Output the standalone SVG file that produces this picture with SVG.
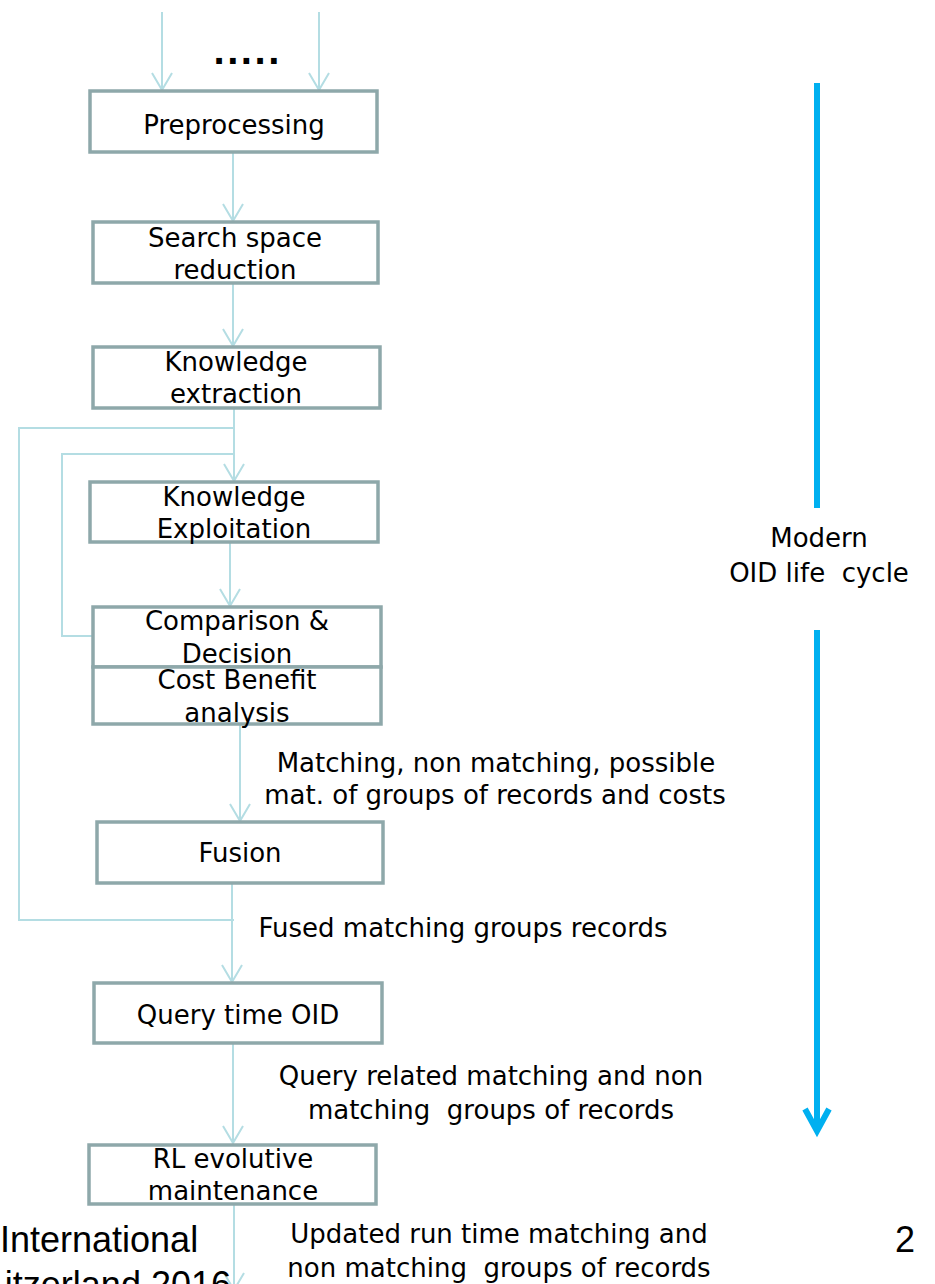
<svg xmlns="http://www.w3.org/2000/svg" width="935" height="1284" viewBox="0 0 935 1284">
  <style>
    .box { fill: #ffffff; stroke: #8ea8aa; stroke-width: 3.5; }
    .lbl { font-family: "DejaVu Sans", "Noto Sans", sans-serif; font-size: 26px; fill: #000000; text-anchor: middle; white-space: pre; }
    .wire { fill: none; stroke: #b4dde3; stroke-width: 2; }
    .foot { font-family: "Liberation Sans", Arial, sans-serif; font-size: 36px; fill: #000000; }
  </style>
  <defs>
    <marker id="vee" markerUnits="userSpaceOnUse" markerWidth="40" markerHeight="40" refX="0" refY="0" orient="auto" viewBox="-20 -20 40 40" overflow="visible">
      <path d="M-17,-10 L0,0 L-17,10" fill="none" stroke="#b4dde3" stroke-width="2"/>
    </marker>
  </defs>

  <!-- connectors -->
  <g id="connectors">
    <line class="wire" x1="162" y1="12" x2="162" y2="90" marker-end="url(#vee)"/>
    <line class="wire" x1="319" y1="12" x2="319" y2="90" marker-end="url(#vee)"/>
    <line class="wire" x1="233" y1="152" x2="233" y2="221" marker-end="url(#vee)"/>
    <line class="wire" x1="233" y1="283" x2="233" y2="346" marker-end="url(#vee)"/>
    <line class="wire" x1="234" y1="408" x2="234" y2="481" marker-end="url(#vee)"/>
    <!-- outer feedback loop -->
    <polyline class="wire" points="234,428 19,428 19,920 234,920"/>
    <!-- inner feedback loop -->
    <polyline class="wire" points="234,454 62,454 62,636 93,636"/>
    <line class="wire" x1="230" y1="542" x2="230" y2="606" marker-end="url(#vee)"/>
    <line class="wire" x1="240" y1="724" x2="240" y2="821" marker-end="url(#vee)"/>
    <line class="wire" x1="232" y1="883" x2="232" y2="982" marker-end="url(#vee)"/>
    <line class="wire" x1="233" y1="1043" x2="233" y2="1143" marker-end="url(#vee)"/>
    <line class="wire" x1="234" y1="1205" x2="234" y2="1290" marker-end="url(#vee)"/>
  </g>

  <text class="lbl" x="213" y="64" style="text-anchor:start;font-size:32px;font-weight:bold;letter-spacing:1.5px">.....</text>

  <g id="preprocessing">
    <rect class="box" x="90" y="91" width="287" height="61"/>
    <text class="lbl" x="234" y="134">Preprocessing</text>
  </g>
  <g id="search-space-reduction">
    <rect class="box" x="93" y="222" width="285" height="61"/>
    <text class="lbl" x="235" y="247">Search space</text>
    <text class="lbl" x="235" y="279">reduction</text>
  </g>
  <g id="knowledge-extraction">
    <rect class="box" x="93" y="347" width="287" height="61"/>
    <text class="lbl" x="236" y="371">Knowledge</text>
    <text class="lbl" x="236" y="403">extraction</text>
  </g>
  <g id="knowledge-exploitation">
    <rect class="box" x="90" y="482" width="288" height="60"/>
    <text class="lbl" x="234" y="506">Knowledge</text>
    <text class="lbl" x="234" y="538">Exploitation</text>
  </g>
  <g id="comparison-decision">
    <rect class="box" x="93" y="607" width="288" height="60"/>
    <text class="lbl" x="237" y="630">Comparison &amp;</text>
    <text class="lbl" x="237" y="663">Decision</text>
  </g>
  <g id="cost-benefit">
    <rect class="box" x="93" y="667" width="288" height="57"/>
    <text class="lbl" x="237" y="689">Cost Benefit</text>
    <text class="lbl" x="237" y="722">analysis</text>
  </g>
  <g id="fusion">
    <rect class="box" x="97" y="822" width="286" height="61"/>
    <text class="lbl" x="240" y="862">Fusion</text>
  </g>
  <g id="query-time-oid">
    <rect class="box" x="94" y="983" width="288" height="60"/>
    <text class="lbl" x="238" y="1024">Query time OID</text>
  </g>
  <g id="rl-evolutive-maintenance">
    <rect class="box" x="89" y="1145" width="287" height="59"/>
    <text class="lbl" x="233" y="1168">RL evolutive</text>
    <text class="lbl" x="233" y="1200">maintenance</text>
  </g>

  <!-- edge annotations -->
  <g id="edge-labels">
    <text class="lbl" x="496" y="772">Matching, non matching, possible</text>
    <text class="lbl" x="495" y="804">mat. of groups of records and costs</text>
    <text class="lbl" x="463" y="937">Fused matching groups records</text>
    <text class="lbl" x="491" y="1085">Query related matching and non</text>
    <text class="lbl" x="491" y="1119">matching  groups of records</text>
    <text class="lbl" x="499" y="1243">Updated run time matching and</text>
    <text class="lbl" x="499" y="1277">non matching  groups of records</text>
  </g>

  <!-- life cycle axis -->
  <g id="life-cycle">
    <line x1="817" y1="83" x2="817" y2="508" stroke="#00b0f0" stroke-width="6"/>
    <line x1="817" y1="630" x2="817" y2="1128" stroke="#00b0f0" stroke-width="6"/>
    <path d="M805,1109 L817,1131 L829,1109" fill="none" stroke="#00b0f0" stroke-width="6" stroke-linejoin="miter"/>
    <text class="lbl" x="819" y="547">Modern</text>
    <text class="lbl" x="819" y="582">OID life  cycle</text>
  </g>

  <!-- slide footer -->
  <text class="foot" x="0" y="1252">International</text>
  <text class="foot" x="231" y="1297" text-anchor="end">itzerland 2016</text>
  <text class="foot" x="895" y="1252">2</text>
</svg>
